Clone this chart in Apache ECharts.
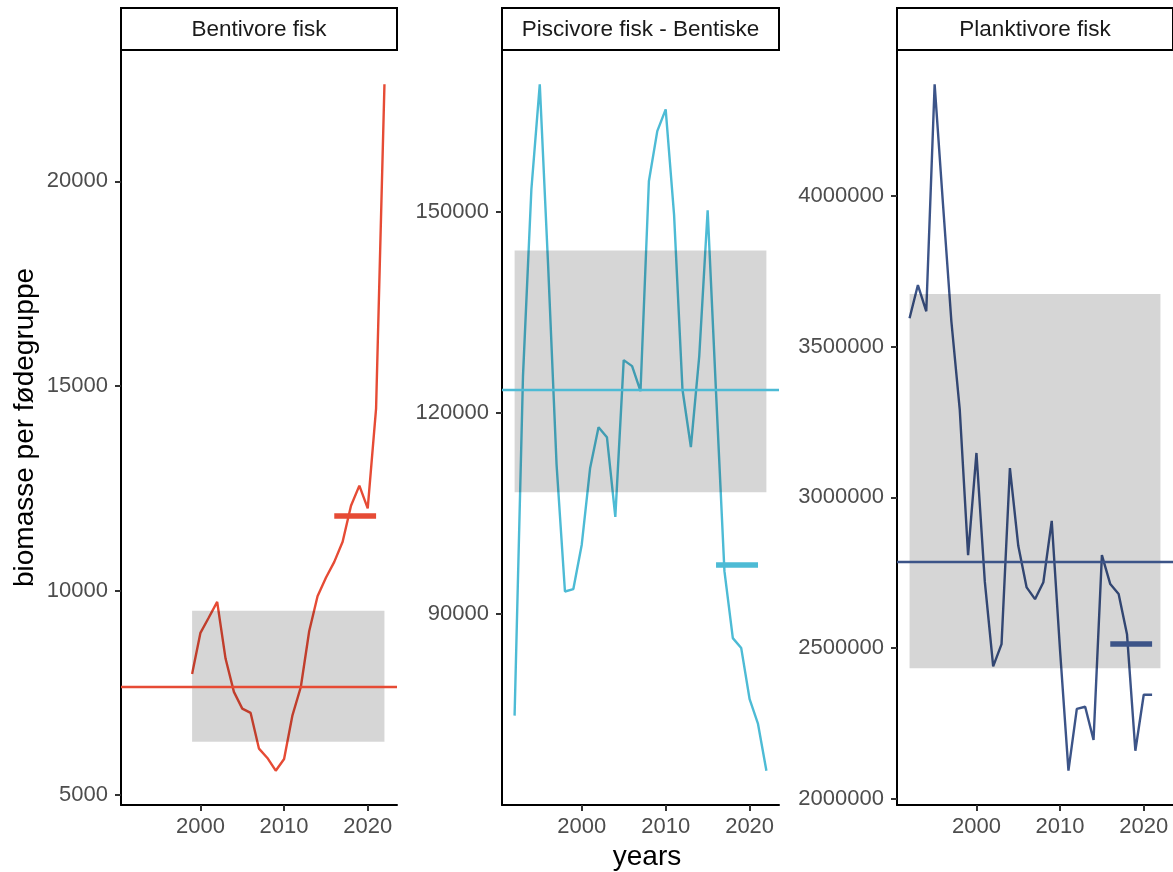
<!DOCTYPE html>
<html>
<head>
<meta charset="utf-8">
<title>Biomasse per fødegruppe</title>
<script src="https://cdn.jsdelivr.net/npm/echarts@6/dist/echarts.min.js"></script>
<style>
  html, body { margin: 0; padding: 0; background: #ffffff; }
  #chart { width: 1173px; height: 872px; }
</style>
</head>
<body>
<div id="chart"></div>
<script>
// ---- Data -------------------------------------------------------------
const PANEL_TITLES = ['Bentivore fisk', 'Piscivore fisk - Bentiske', 'Planktivore fisk'];
const PANEL_COLORS = ['#E64B35', '#4DBBD5', '#3C5488'];

const YEARS_BENTIVORE = [1999, 2000, 2001, 2002, 2003, 2004, 2005, 2006, 2007, 2008, 2009, 2010,
  2011, 2012, 2013, 2014, 2015, 2016, 2017, 2018, 2019, 2020, 2021, 2022];
const BIOMASS_BENTIVORE = [7960, 8965, 9340, 9723, 8336, 7521, 7112, 7007, 6133, 5906, 5595, 5881,
  6948, 7640, 9004, 9860, 10311, 10700, 11192, 12073, 12563, 12007, 14454, 22374];

const YEARS_PISCIVORE = [1992, 1993, 1994, 1995, 1996, 1997, 1998, 1999, 2000, 2001, 2002, 2003,
  2004, 2005, 2006, 2007, 2008, 2009, 2010, 2011, 2012, 2013, 2014, 2015, 2016, 2017, 2018,
  2019, 2020, 2021, 2022];
const BIOMASS_PISCIVORE = [74870, 125460, 153280, 168960, 141800, 112300, 93370, 93730, 100340,
  111790, 117850, 116360, 104480, 127850, 126960, 123220, 154520, 161990, 165220, 149500,
  123480, 114900, 128450, 150190, 123000, 96400, 86420, 84930, 77310, 73630, 66660];

const YEARS_PLANKTIVORE = [1992, 1993, 1994, 1995, 1996, 1997, 1998, 1999, 2000, 2001, 2002, 2003,
  2004, 2005, 2006, 2007, 2008, 2009, 2010, 2011, 2012, 2013, 2014, 2015, 2016, 2017, 2018,
  2019, 2020, 2021];
const BIOMASS_PLANKTIVORE = [3594000, 3704000, 3617000, 4370000, 3972000, 3584000, 3292000,
  2808000, 3147000, 2720000, 2439000, 2513000, 3097000, 2839000, 2701000, 2662000, 2718000,
  2922000, 2490000, 2093000, 2298000, 2305000, 2195000, 2808000, 2712000, 2679000, 2546000,
  2159000, 2345000, 2345000];

// Reference level (horizontal line) per panel
const REFERENCE_LEVEL = [7640, 123500, 2787000];
// Shaded reference band per panel: [startYear, endYear] and [lower, upper]
const BAND_YEARS = [[1999, 2022], [1992, 2022], [1992, 2022]];
const BAND_LIMITS = [[6304, 9503], [108150, 144180], [2432500, 3674000]];
// Recent-period level (thick segment): years and value
const RECENT_YEARS = [2016, 2021];
const RECENT_LEVEL = [11820, 97300, 2515000];

// Tick labels
const X_TICKS = [2000, 2010, 2020];
const Y_TICKS = [
  [5000, 10000, 15000, 20000],
  [90000, 120000, 150000],
  [2000000, 2500000, 3000000, 3500000, 4000000]
];

const X_LABEL = 'years';
const Y_LABEL = 'biomasse per fødegruppe';

// ---- Layout -----------------------------------------------------------
const FONT = "'Liberation Sans', Arial, Helvetica, sans-serif";
const PANEL_LEFT = [121, 502, 897];
const PANEL_WIDTH = [276, 277, 276];
const PANEL_TOP = 50;
const PANEL_HEIGHT = 755;
const STRIP_TOP = 8;
const STRIP_HEIGHT = 42;

const yearsList = [YEARS_BENTIVORE, YEARS_PISCIVORE, YEARS_PLANKTIVORE];
const valuesList = [BIOMASS_BENTIVORE, BIOMASS_PISCIVORE, BIOMASS_PLANKTIVORE];

// Shared x range: all years with 5% padding on each side
const allYears = [].concat(...yearsList);
const xLo = Math.min(...allYears), xHi = Math.max(...allYears);
const xPad = (xHi - xLo) * 0.05;

function yRange(i) {
  const vals = valuesList[i].concat(BAND_LIMITS[i], [REFERENCE_LEVEL[i], RECENT_LEVEL[i]]);
  const lo = Math.min(...vals), hi = Math.max(...vals);
  const pad = (hi - lo) * 0.05;
  return [lo - pad, hi + pad];
}

const grids = [], xAxes = [], yAxes = [], series = [], graphics = [];

for (let i = 0; i < 3; i++) {
  grids.push({ left: PANEL_LEFT[i], top: PANEL_TOP, width: PANEL_WIDTH[i], height: PANEL_HEIGHT, containLabel: false });

  xAxes.push({
    type: 'value', gridIndex: i, min: xLo - xPad, max: xHi + xPad,
    axisLine: { show: true, onZero: false, lineStyle: { color: '#000000', width: 2 } },
    axisTick: { show: true, length: 6, customValues: X_TICKS, lineStyle: { color: '#333333', width: 2 } },
    axisLabel: { customValues: X_TICKS, margin: 11, color: '#4D4D4D', fontSize: 22, fontFamily: FONT,
      formatter: v => String(v) },
    splitLine: { show: false }
  });

  const [ymin, ymax] = yRange(i);
  yAxes.push({
    type: 'value', gridIndex: i, min: ymin, max: ymax,
    axisLine: { show: true, onZero: false, lineStyle: { color: '#000000', width: 2 } },
    axisTick: { show: true, length: 6, customValues: Y_TICKS[i], lineStyle: { color: '#333333', width: 2 } },
    axisLabel: { customValues: Y_TICKS[i], margin: 13, color: '#4D4D4D', fontSize: 22, fontFamily: FONT,
      formatter: v => String(v) },
    splitLine: { show: false }
  });

  // Biomass time series
  series.push({
    type: 'line', xAxisIndex: i, yAxisIndex: i, z: 2,
    data: yearsList[i].map((y, k) => [y, valuesList[i][k]]),
    showSymbol: false, symbol: 'none', smooth: false,
    lineStyle: { color: PANEL_COLORS[i], width: 2.4 },
    animation: false, silent: true
  });

  // Shaded reference band, translucent and layered over the series line
  series.push({
    type: 'line', xAxisIndex: i, yAxisIndex: i, z: 3, data: [], silent: true, animation: false,
    markArea: {
      z: 3,
      silent: true,
      itemStyle: { color: 'rgba(0,0,0,0.16)' },
      data: [[
        { xAxis: BAND_YEARS[i][0], yAxis: BAND_LIMITS[i][1] },
        { xAxis: BAND_YEARS[i][1], yAxis: BAND_LIMITS[i][0] }
      ]]
    }
  });

  // Reference level across the panel and the recent-period segment
  series.push({
    type: 'line', xAxisIndex: i, yAxisIndex: i, z: 4, data: [], silent: true, animation: false,
    markLine: {
      z: 5,
      silent: true, symbol: ['none', 'none'], label: { show: false }, animation: false,
      data: [
        { yAxis: REFERENCE_LEVEL[i], lineStyle: { color: PANEL_COLORS[i], width: 2.4, type: 'solid' } },
        [
          { coord: [RECENT_YEARS[0], RECENT_LEVEL[i]], lineStyle: { color: PANEL_COLORS[i], width: 5.5, type: 'solid', cap: 'butt' } },
          { coord: [RECENT_YEARS[1], RECENT_LEVEL[i]] }
        ]
      ]
    }
  });

  // Facet strip
  graphics.push({
    type: 'rect', z: 10,
    shape: { x: PANEL_LEFT[i], y: STRIP_TOP, width: PANEL_WIDTH[i], height: STRIP_HEIGHT },
    style: { fill: '#ffffff', stroke: '#000000', lineWidth: 2 }
  });
  graphics.push({
    type: 'text', z: 11,
    x: PANEL_LEFT[i] + PANEL_WIDTH[i] / 2, y: STRIP_TOP + STRIP_HEIGHT / 2 + 1,
    style: { text: PANEL_TITLES[i], fill: '#1A1A1A', font: '22.5px ' + FONT, textAlign: 'center', textVerticalAlign: 'middle' }
  });
}

// Axis titles
graphics.push({
  type: 'text', z: 11,
  x: (PANEL_LEFT[0] + PANEL_LEFT[2] + PANEL_WIDTH[2]) / 2, y: 857,
  style: { text: X_LABEL, fill: '#000000', font: '28px ' + FONT, textAlign: 'center', textVerticalAlign: 'middle' }
});
graphics.push({
  type: 'text', z: 11,
  x: 25, y: PANEL_TOP + PANEL_HEIGHT / 2, rotation: Math.PI / 2,
  style: { text: Y_LABEL, fill: '#000000', font: '28px ' + FONT, textAlign: 'center', textVerticalAlign: 'middle' }
});

const chart = echarts.init(document.getElementById('chart'), null, { renderer: 'canvas' });
chart.setOption({
  backgroundColor: '#ffffff',
  animation: false,
  grid: grids,
  xAxis: xAxes,
  yAxis: yAxes,
  series: series,
  graphic: graphics
});
</script>
</body>
</html>
